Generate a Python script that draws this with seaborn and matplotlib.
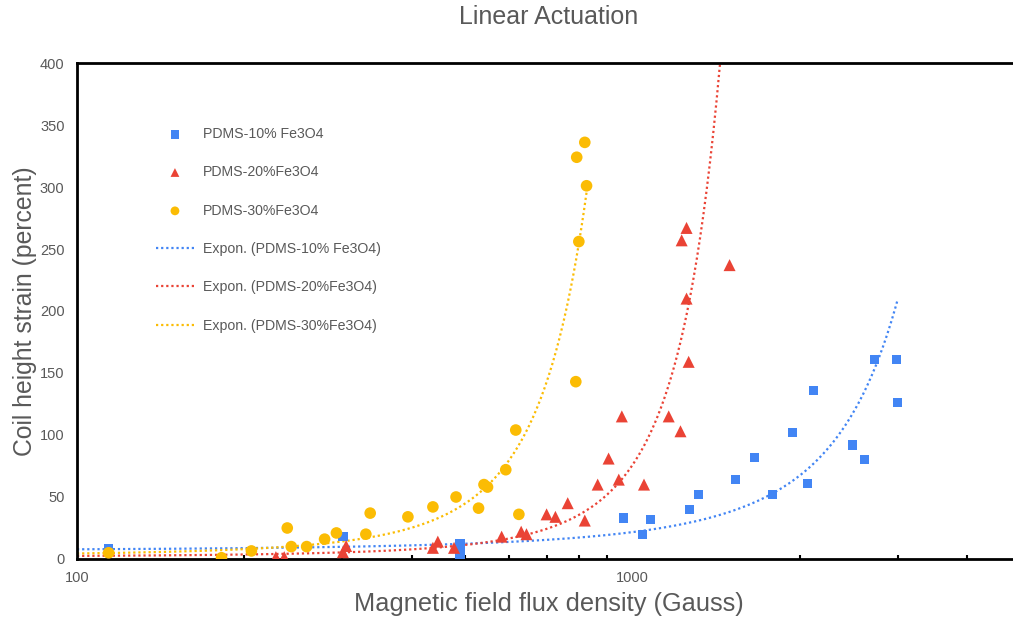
import numpy as np
import pandas as pd
import matplotlib
matplotlib.use("Agg")
import matplotlib.pyplot as plt
import seaborn as sns

# values
blue_x = [114, 301, 489, 489, 489, 963, 1042, 1077, 1266, 1315, 1531, 1656,
          1786, 1941, 2065, 2117, 2488, 2612, 2723, 2985, 3000]
blue_y = [8, 18, 12, 8, 1.5, 33, 20, 32, 40, 52, 64, 82,
          52, 102, 61, 136, 92, 80, 161, 161, 126]

red_x = [228, 236, 301, 305, 437, 446, 477, 581, 630, 644, 700, 726, 764,
         820, 865, 905, 944, 956, 1048, 1161, 1219, 1225, 1250, 1250, 1261, 1494]
red_y = [1.5, 1.5, 5.5, 10.5, 9, 14, 9, 18, 22, 20, 36, 34, 45,
         31, 60, 81, 64, 115, 60, 115, 103, 257, 267, 210, 159, 237]

yellow_x = [114, 182, 206, 239, 243, 259, 279, 293, 331, 337, 394, 437,
            481, 528, 540, 548, 591, 616, 624, 790, 793, 800, 820, 826]
yellow_y = [5, 1, 6.5, 25, 10, 10, 16, 21, 20, 37, 34, 42,
            50, 41, 60, 58, 72, 104, 36, 143, 324, 256, 336, 301]

series_names = ["PDMS-10% Fe3O4", "PDMS-20%Fe3O4", "PDMS-30%Fe3O4"]
colors = ["#4285F4", "#EA4335", "#FBBC04"]
markers = ["s", "^", "o"]
marker_sizes = [45, 75, 70]

sns.set_theme(style="white")
plt.rcParams["font.family"] = ["Liberation Sans", "DejaVu Sans"]
grey = "#595959"

fig = plt.figure(figsize=(10.13, 6.22), dpi=100)
ax = fig.add_axes([0.076, 0.1013, 0.932, 0.7974])

data = [(blue_x, blue_y), (red_x, red_y), (yellow_x, yellow_y)]

# scatter points
for (xs, ys), name, c, m, s in zip(data, series_names, colors, markers, marker_sizes):
    df = pd.DataFrame({"x": xs, "y": ys})
    sns.scatterplot(data=df, x="x", y="y", color=c, marker=m, s=s,
                    edgecolor="none", label=name, ax=ax, zorder=3)

# exponential trendlines (least squares on ln y, like a spreadsheet trendline)
for (xs, ys), name, c in zip(data, series_names, colors):
    b, ln_a = np.polyfit(np.array(xs, float), np.log(ys), 1)
    xx = np.geomspace(100, max(xs), 400)
    fit = pd.DataFrame({"x": xx, "y": np.exp(ln_a + b * xx)})
    sns.lineplot(data=fit, x="x", y="y", color=c, lw=1.6,
                 linestyle=(0, (1, 1.3)), label=f"Expon. ({name})", ax=ax, zorder=2)

ax.set_xscale("log")
ax.set_xlim(100, 5000)
ax.set_ylim(0, 400)
ax.set_yticks(range(0, 401, 50))
ax.set_xticks([100, 1000])
ax.set_xticklabels(["100", "1000"])
ax.set_xticks([200, 300, 400, 500, 600, 700, 800, 900, 2000, 3000, 4000], minor=True)
ax.xaxis.set_minor_formatter(matplotlib.ticker.NullFormatter())

ax.tick_params(axis="both", which="both", direction="in", color="black",
               width=1.5, labelcolor=grey, labelsize=10.5)
ax.tick_params(axis="y", length=3, pad=9)
ax.tick_params(axis="x", which="major", length=3, pad=9)
ax.tick_params(axis="x", which="minor", length=3, bottom=True)

for sp in ax.spines.values():
    sp.set_color("black")
    sp.set_linewidth(2)

ax.set_xlabel("Magnetic field flux density (Gauss)", fontsize=18.3, color=grey, labelpad=5)
ax.set_ylabel("Coil height strain (percent)", fontsize=17.8, color=grey, labelpad=2)
ax.set_title("Linear Actuation", fontsize=18, color=grey, pad=28)

leg = ax.legend(loc="upper left", bbox_to_anchor=(0.07, 0.897), frameon=False,
                fontsize=10.2, labelspacing=1.72, handlelength=2.7,
                handletextpad=0.6, labelcolor=grey)
for h in leg.legend_handles[:3]:
    h.set_sizes([40])

fig.savefig("out.png", dpi=100)
